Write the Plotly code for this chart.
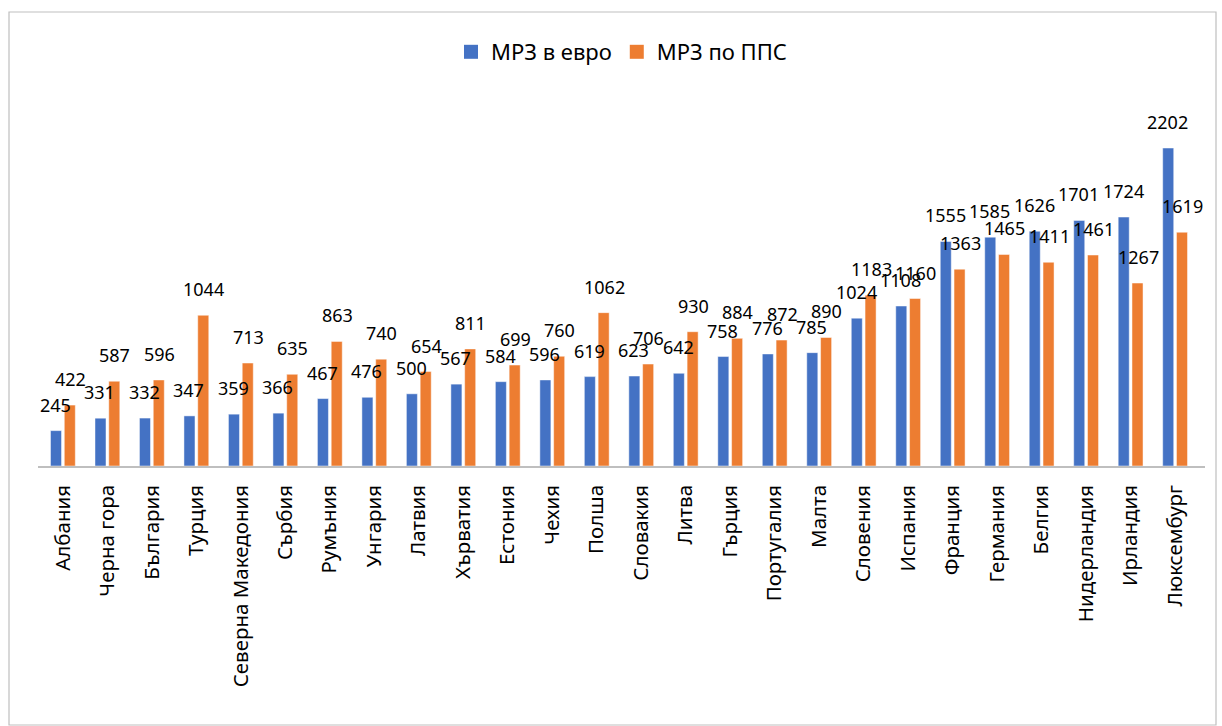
import plotly.graph_objects as go

countries = ["Албания", "Черна гора", "България", "Турция", "Северна Македония", "Сърбия",
             "Румъния", "Унгария", "Латвия", "Хърватия", "Естония", "Чехия", "Полша",
             "Словакия", "Литва", "Гърция", "Португалия", "Малта", "Словения", "Испания",
             "Франция", "Германия", "Белгия", "Нидерландия", "Ирландия", "Люксембург"]
mrz_eur = [245, 331, 332, 347, 359, 366, 467, 476, 500, 567, 584, 596, 619,
           623, 642, 758, 776, 785, 1024, 1108, 1555, 1585, 1626, 1701, 1724, 2202]
mrz_pps = [422, 587, 596, 1044, 713, 635, 863, 740, 654, 811, 699, 760, 1062,
           706, 930, 884, 872, 890, 1183, 1160, 1363, 1465, 1411, 1461, 1267, 1619]
series_names = ["МРЗ в евро", "МРЗ по ППС"]

BLUE = "#4472C4"
ORANGE = "#ED7D31"
FONT = "Noto Sans"

W, H = 1222, 726
L, R, T, B = 38, 17, 105, 260
pw, ph = W - L - R, H - T - B

fig = go.Figure()
for name, vals, col in zip(series_names, [mrz_eur, mrz_pps], [BLUE, ORANGE]):
    fig.add_bar(x=countries, y=vals, name=name, marker_color=col, showlegend=False,
                marker_line_color="rgba(255,255,255,0.6)", marker_line_width=0.8)
# legend entries with larger square swatches
for name, col in zip(series_names, [BLUE, ORANGE]):
    fig.add_scatter(x=[None], y=[None], mode="markers", name=name,
                    marker=dict(symbol="square", size=14, color=col))

ann = []
for c, v in zip(countries, mrz_eur):
    ann.append(dict(x=c, y=v, text=str(v), showarrow=False, xshift=-7.4, yshift=12,
                    yanchor="bottom", font=dict(family=FONT, size=18, color="#000")))
for c, v in zip(countries, mrz_pps):
    ann.append(dict(x=c, y=v, text=str(v), showarrow=False, xshift=7.4, yshift=12,
                    yanchor="bottom", font=dict(family=FONT, size=18, color="#000")))

def px_x(p):
    return (p - L) / pw

def px_y(p):
    return (H - B - p) / ph

fig.update_layout(
    width=W, height=H, autosize=False,
    margin=dict(l=L, r=R, t=T, b=B, pad=0),
    paper_bgcolor="white", plot_bgcolor="white",
    barmode="group", bargap=0.38, bargroupgap=0.2,
    font=dict(family=FONT, size=18, color="#000"),
    showlegend=True,
    legend=dict(orientation="h", x=0.5, xanchor="center", y=px_y(52), yanchor="middle",
                font=dict(family=FONT, size=22, color="#000"), traceorder="normal",
                itemwidth=30),
    annotations=ann,
    shapes=[dict(type="rect", xref="paper", yref="paper",
                 x0=px_x(9), x1=px_x(1216), y0=px_y(725), y1=px_y(12),
                 line=dict(color="#BFBFBF", width=1.2), fillcolor="rgba(0,0,0,0)", layer="below")],
)
fig.update_xaxes(tickangle=-90, showline=True, linecolor="#BFBFBF", linewidth=1.5,
                 ticks="", showgrid=False, tickfont=dict(family=FONT, size=20.5, color="#000"),
                 ticklabelstandoff=9)
fig.update_yaxes(range=[0, 2500], visible=False, showgrid=False, zeroline=False)

fig.write_html("out.html")
